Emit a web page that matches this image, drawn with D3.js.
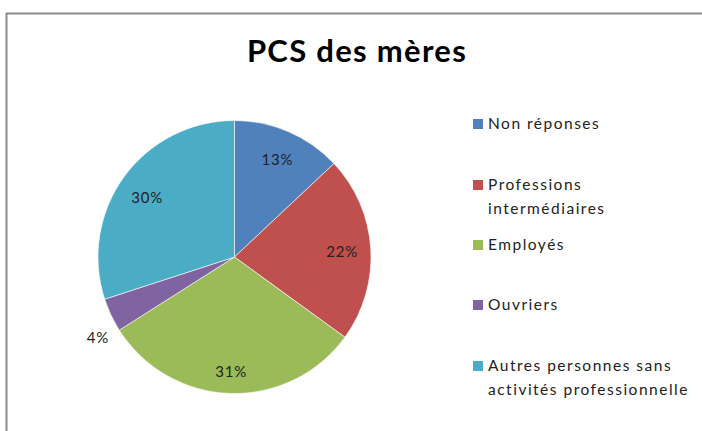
<!DOCTYPE html>
<html>
<head>
<meta charset="utf-8">
<script src="https://cdn.jsdelivr.net/npm/d3@7"></script>
<style>
  html, body { margin: 0; padding: 0; background: #fff; }
  svg { display: block; }
</style>
</head>
<body>
<svg id="chart" width="702" height="431"></svg>
<script>
const title = "PCS des mères";
const categories = ["Non réponses", "Professions intermédiaires", "Employés", "Ouvriers", "Autres personnes sans activités professionnelle"];
const legendLines = [["Non réponses"], ["Professions", "intermédiaires"], ["Employés"], ["Ouvriers"], ["Autres personnes sans", "activités professionnelle"]];
const values = [13, 22, 31, 4, 30];
const colors = ["#4F81BD", "#C0504D", "#9BBB59", "#8064A2", "#4BACC6"];

const svg = d3.select("#chart");
const font = "Lato, 'Open Sans', sans-serif";

// chart border
svg.append("path")
  .attr("d", "M6.5,431 L6.5,13.5 L702,13.5")
  .attr("fill", "none").attr("stroke", "#8c8c8c").attr("stroke-width", 2);

svg.append("text")
  .attr("x", 357).attr("y", 62)
  .attr("text-anchor", "middle")
  .attr("font-family", font).attr("font-weight", "bold")
  .attr("font-size", 31).attr("letter-spacing", 1.3).attr("fill", "#000")
  .text(title);

const cx = 234.5, cy = 257, r = 136.5;
const pie = d3.pie().sort(null).value(d => d);
const arcs = pie(values);
const arc = d3.arc().innerRadius(0).outerRadius(r);
const g = svg.append("g").attr("transform", `translate(${cx},${cy})`);
g.selectAll("path").data(arcs).enter().append("path")
  .attr("d", arc)
  .attr("fill", (d, i) => colors[i])
  .attr("stroke", "#fff").attr("stroke-width", 0.6);

const labelArc = d3.arc().innerRadius(r * 0.79).outerRadius(r * 0.79);
const outerArc = d3.arc().innerRadius(r * 1.08).outerRadius(r * 1.08);
g.selectAll("text.lbl").data(arcs).enter().append("text")
  .attr("class", "lbl")
  .each(function(d) {
    const small = d.data < 6;
    const p = (small ? outerArc : labelArc).centroid(d);
    d3.select(this)
      .attr("x", small ? p[0] + 8 : p[0])
      .attr("y", small ? p[1] + 16 : p[1] + (p[1] > 80 ? 5 : (p[1] < -40 && p[0] < 0 ? 3 : 0)))
      .attr("text-anchor", small ? "end" : "middle");
  })
  .attr("dy", "0.45em")
  .attr("font-family", font).attr("font-size", 15).attr("letter-spacing", 0.8).attr("fill", "#222")
  .text(d => d.data + "%");

// legend
const legendY = [124, 185, 245, 305, 366];
const lg = svg.append("g");
categories.forEach((c, i) => {
  const item = lg.append("g").attr("transform", `translate(473,${legendY[i]})`);
  item.append("rect").attr("x", 0).attr("y", -5).attr("width", 10).attr("height", 10).attr("fill", colors[i]);
  const t = item.append("text").attr("x", 15).attr("y", 0)
    .attr("font-family", font).attr("font-size", 15.5).attr("letter-spacing", 1.5).attr("fill", "#222");
  legendLines[i].forEach((line, j) => {
    t.append("tspan").attr("x", 15).attr("dy", j === 0 ? "0.35em" : 24).text(line);
  });
});
</script>
</body>
</html>
